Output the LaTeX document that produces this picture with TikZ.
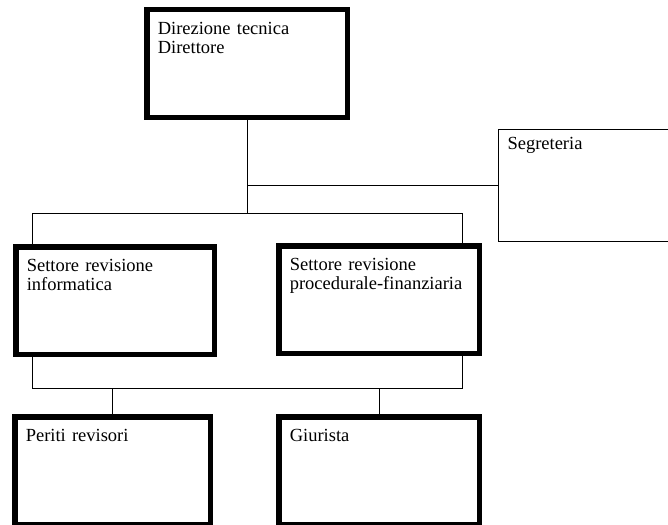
\documentclass[tikz,border=0pt]{standalone}
\usepackage{fontspec}
\setmainfont{Liberation Serif}
\usepackage{tikz}

\begin{document}
\begin{tikzpicture}[x=1pt, y=-1pt,
    ufficio/.style={draw, line width=5.5pt, anchor=north west, align=left,
      inner xsep=11pt, inner ysep=12pt, text height=13pt,
      font=\fontsize{18.5}{18.5}\selectfont},
    segr/.style={draw, line width=1pt, anchor=north west, align=left,
      inner xsep=9pt, inner ysep=7.3pt, text height=13pt,
      font=\fontsize{18.5}{18.5}\selectfont},
    linea/.style={draw, line width=0.9pt}]

    \useasboundingbox (0, 0) rectangle (668, 524);
    \clip (0, 0) rectangle (668, 524);

    \node[ufficio, text width=178.5pt, text depth=70.5pt] (dir) at (144, 7) {Direzione tecnica\\Direttore};
    \node[segr, text width=181pt, text depth=84.4pt] (seg) at (498, 128.5) {Segreteria};
    \node[ufficio, text width=176.5pt, text depth=70.5pt] (inf) at (13, 244) {Settore revisione\\informatica};
    \node[ufficio, text width=178.5pt, text depth=70.5pt] (proc) at (276, 243) {Settore revisione\\procedurale-finanziaria};
    \node[ufficio, text width=173.5pt, text depth=71pt] (per) at (12, 414) {Periti revisori};
    \node[ufficio, text width=178.5pt, text depth=71pt] (giu) at (276, 414) {Giurista};

    \coordinate (sx) at (32, 213);
    \coordinate (dx) at (462, 213);
    \coordinate (sb) at (32, 388);
    \coordinate (db) at (462, 388);

    \draw [linea] (dir.south) -- (dir.south |- sx);
    \draw [linea] (dir.south |- seg.west) -- (seg.west);
    \draw [linea] (sx |- inf.north) -- (sx) -- (dx) -- (dx |- proc.north);
    \draw [linea] (sb |- inf.south) -- (sb) -- (db) -- (db |- proc.south);
    \draw [linea] (per.north |- sb) -- (per.north);
    \draw [linea] (giu.north |- sb) -- (giu.north);

  \end{tikzpicture}
\end{document}
